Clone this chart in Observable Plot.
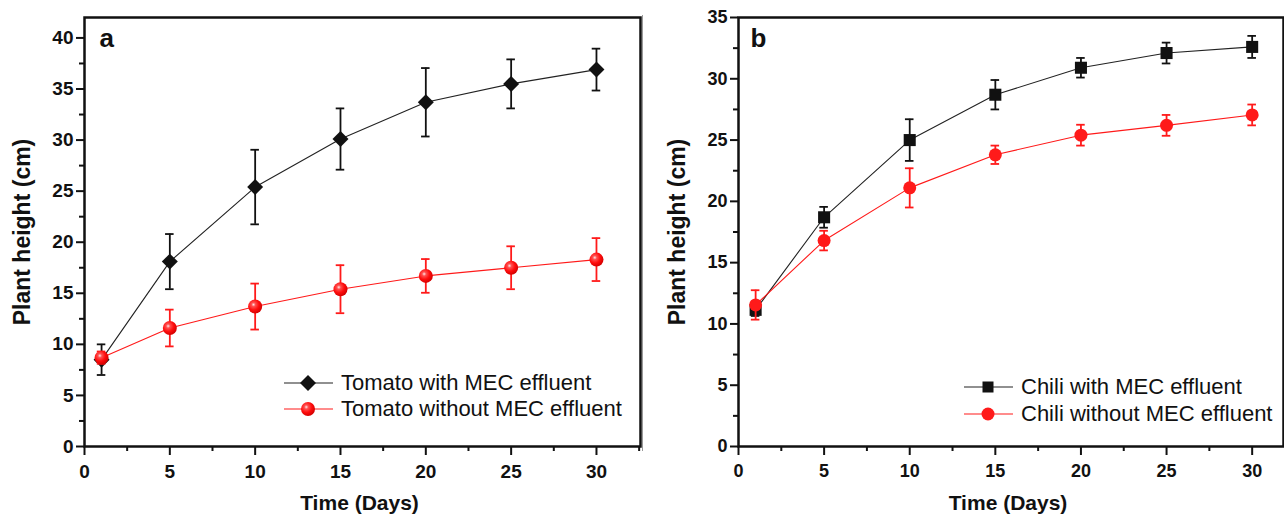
<!DOCTYPE html>
<html>
<head>
<meta charset="utf-8">
<script src="https://cdn.jsdelivr.net/npm/d3@7"></script>
<script src="https://cdn.jsdelivr.net/npm/@observablehq/plot@0.6"></script>
<style>
  html, body { margin: 0; padding: 0; background: #fff; }
  #wrap { position: relative; width: 1284px; height: 516px; overflow: hidden; font-family: "Liberation Sans", Arial, sans-serif; }
  .panel { position: absolute; top: 0; }
  .panel svg { display: block; }
  .panel g[aria-label="y-axis tick label"] text,
  .panel g[aria-label="x-axis tick label"] text { font-weight: bold; }
  .legend { position: absolute; font-size: 22px; color: #111; }
  .legend .item { position: absolute; white-space: nowrap; height: 26px; display: flex; align-items: center; }
  .legend svg { display: block; margin-right: 8px; }
  #sep { position: absolute; left: 642px; top: 15px; width: 1px; height: 436px; background: #9a9a9a; }
</style>
</head>
<body>
<div id="wrap">
  <div id="sep"></div>
</div>
<script>
// ---- data ----
const days = [1, 5, 10, 15, 20, 25, 30];

const tomatoWith       = [8.5, 18.1, 25.4, 30.1, 33.7, 35.5, 36.9];
const tomatoWithErr    = [1.5, 2.7, 3.65, 3.0, 3.35, 2.4, 2.05];
const tomatoWithout    = [8.7, 11.6, 13.7, 15.4, 16.7, 17.5, 18.3];
const tomatoWithoutErr = [0.6, 1.8, 2.25, 2.35, 1.65, 2.1, 2.1];

const chiliWith        = [11.15, 18.7, 25.0, 28.7, 30.9, 32.1, 32.6];
const chiliWithErr     = [0.5, 0.85, 1.7, 1.2, 0.8, 0.85, 0.9];
const chiliWithout     = [11.55, 16.8, 21.1, 23.8, 25.4, 26.2, 27.05];
const chiliWithoutErr  = [1.2, 0.8, 1.6, 0.75, 0.85, 0.85, 0.85];

const xMajorTicks = [0, 5, 10, 15, 20, 25, 30];
const xMinorTicks = [2.5, 7.5, 12.5, 17.5, 22.5, 27.5, 32.5];
const yTicksA = [0, 5, 10, 15, 20, 25, 30, 35, 40];
const yMinorA = [2.5, 7.5, 12.5, 17.5, 22.5, 27.5, 32.5, 37.5];
const yTicksB = [0, 5, 10, 15, 20, 25, 30, 35];
const yMinorB = [2.5, 7.5, 12.5, 17.5, 22.5, 27.5, 32.5];

const labelsA = ["Tomato with MEC effluent", "Tomato without MEC effluent"];
const labelsB = ["Chili with MEC effluent", "Chili without MEC effluent"];

const BLACK = "#111";
const RED = "#ff1a1a";

function rows(vals, errs) {
  return days.map((d, i) => ({x: d, y: vals[i], e: errs[i]}));
}

function seriesMarks(data, s) {
  return [
    Plot.line(data, {x: "x", y: "y", stroke: s.line, strokeWidth: 1.1}),
    Plot.ruleX(data, {x: "x", y1: d => d.y - d.e, y2: d => d.y + d.e, stroke: s.color, strokeWidth: 1.8}),
    Plot.ruleY(data, {y: d => d.y + d.e, x1: d => d.x - 0.25, x2: d => d.x + 0.25, stroke: s.color, strokeWidth: 1.8}),
    Plot.ruleY(data, {y: d => d.y - d.e, x1: d => d.x - 0.25, x2: d => d.x + 0.25, stroke: s.color, strokeWidth: 1.8}),
    Plot.dot(data, {x: "x", y: "y", symbol: s.symbol, r: s.r, fill: s.fill, stroke: "none"})
  ];
}

function panel(cfg) {
  const marks = [
    Plot.axisY({ticks: cfg.yTicks, tickSize: 8, tickPadding: 3, fontSize: cfg.tickFont, label: null, strokeWidth: 2, stroke: BLACK, fill: BLACK}),
    Plot.axisY({ticks: cfg.yMinor, tickSize: 5, text: null, label: null, strokeWidth: 2, stroke: BLACK}),
    Plot.axisX({ticks: xMajorTicks.filter(t => t <= cfg.xMax), tickSize: 9, tickPadding: 9, fontSize: cfg.tickFont, label: null, strokeWidth: 2, stroke: BLACK, fill: BLACK}),
    Plot.axisX({ticks: xMinorTicks.filter(t => t <= cfg.xMax), tickSize: 5, text: null, label: null, strokeWidth: 2, stroke: BLACK}),
  ];
  cfg.series.forEach(s => marks.push(...seriesMarks(rows(s.values, s.errs), s)));
  marks.push(
    Plot.frame({stroke: BLACK, strokeWidth: 2.5}),
    Plot.text([cfg.letter], {frameAnchor: "top-left", dx: cfg.letterDx, dy: 11, fontSize: 26, fontWeight: "bold", fill: BLACK}),
    Plot.text(["Plant height (cm)"], {frameAnchor: "left", dx: cfg.yTitleDx, rotate: -90, textAnchor: "middle", lineAnchor: "middle", fontSize: 23, fontWeight: "bold", fill: BLACK}),
    Plot.text(["Time (Days)"], {frameAnchor: "bottom", dy: 57, dx: -3, textAnchor: "middle", lineAnchor: "middle", fontSize: 21, fontWeight: "bold", fill: BLACK})
  );
  const svg = Plot.plot({
    width: cfg.width, height: 516,
    marginLeft: cfg.marginLeft, marginRight: cfg.marginRight, marginTop: 17, marginBottom: 70,
    x: {domain: [0, cfg.xMax]},
    y: {domain: [0, cfg.yMax]},
    style: {fontFamily: '"Liberation Sans", Arial, sans-serif', background: "transparent", overflow: "visible"},
    marks
  });
  svg.insertAdjacentHTML("afterbegin",
    `<defs><radialGradient id="redball${cfg.letter}" cx="38%" cy="36%" r="65%">
      <stop offset="0%" stop-color="#ffe6e6"/><stop offset="22%" stop-color="#ff5050"/>
      <stop offset="60%" stop-color="#ff0d0d"/><stop offset="100%" stop-color="#d40000"/></radialGradient></defs>`);
  const div = document.createElement("div");
  div.className = "panel";
  div.style.left = cfg.left + "px";
  div.appendChild(svg);
  document.getElementById("wrap").appendChild(div);
}

function swatch(s) {
  let m;
  if (s.symbol === "diamond2") m = `<path d="M24,3 L32,11 L24,19 L16,11 Z" fill="${BLACK}"/>`;
  else if (s.symbol === "square") m = `<rect x="18.5" y="5.5" width="11" height="11" fill="${BLACK}"/>`;
  else m = `<circle cx="24" cy="11" r="${s.r}" fill="${s.legendFill}"/>`;
  return `<svg width="49" height="22"><line x1="0" x2="49" y1="11" y2="11" stroke="${s.line}" stroke-width="1.1"/>${m}</svg>`;
}

function legend(labels, series, left, tops) {
  const L = document.createElement("div");
  L.className = "legend";
  labels.forEach((lab, i) => {
    const it = document.createElement("div");
    it.className = "item";
    it.style.left = left + "px";
    it.style.top = (tops[i] - 13) + "px";
    it.innerHTML = swatch(series[i]) + `<span>${lab}</span>`;
    L.appendChild(it);
  });
  document.getElementById("wrap").appendChild(L);
}

const seriesA = [
  {values: tomatoWith, errs: tomatoWithErr, color: BLACK, line: "#222", symbol: "diamond2", r: 7.2, fill: BLACK},
  {values: tomatoWithout, errs: tomatoWithoutErr, color: RED, line: RED, symbol: "circle", r: 7, fill: "url(#redballa)", legendFill: "url(#lgball)"}
];
const seriesB = [
  {values: chiliWith, errs: chiliWithErr, color: BLACK, line: "#222", symbol: "square", r: 6.8, fill: BLACK},
  {values: chiliWithout, errs: chiliWithoutErr, color: RED, line: RED, symbol: "circle", r: 6.5, fill: RED, legendFill: RED}
];

panel({letter: "a", left: 0, width: 643, marginLeft: 84, marginRight: 3, xMax: 32.58, yMax: 42, tickFont: 19,
       yTicks: yTicksA, yMinor: yMinorA, series: seriesA, yTitleDx: -62, letterDx: 15});
panel({letter: "b", left: 643, width: 641, marginLeft: 95, marginRight: 1, xMax: 31.83, yMax: 35, tickFont: 18,
       yTicks: yTicksB, yMinor: yMinorB, series: seriesB, yTitleDx: -61, letterDx: 12});

// gradient used by the legend sphere
document.getElementById("wrap").insertAdjacentHTML("beforeend",
  `<svg width="0" height="0" style="position:absolute"><defs><radialGradient id="lgball" cx="38%" cy="36%" r="65%">
    <stop offset="0%" stop-color="#ffe6e6"/><stop offset="22%" stop-color="#ff5050"/>
    <stop offset="60%" stop-color="#ff0d0d"/><stop offset="100%" stop-color="#d40000"/></radialGradient></defs></svg>`);

legend(labelsA, seriesA, 284, [383, 409]);
legend(labelsB, seriesB, 964, [387, 414]);
</script>
</body>
</html>
